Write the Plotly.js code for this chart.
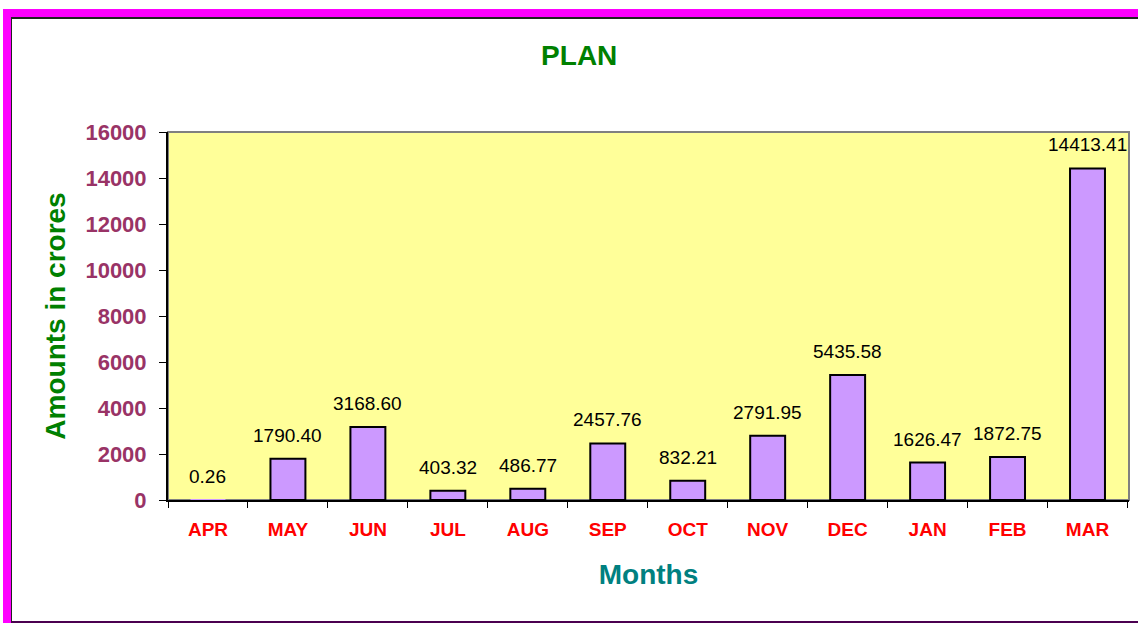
<!DOCTYPE html>
<html>
<head>
<meta charset="utf-8">
<script src="https://cdn.plot.ly/plotly-3.0.1.min.js"></script>
<style>
  html, body { margin: 0; padding: 0; background: #ffffff; }
  #frame { position: absolute; left: 3px; top: 9px; width: 1135px; height: 614px;
           border-top: 8px solid #FF00FF; border-left: 8px solid #FF00FF; box-sizing: border-box; }
  #inner { position: absolute; left: 11px; top: 17px; width: 1127px; height: 606px;
           border-top: 2px solid #222222; border-left: 1px solid #222222;
           border-bottom: 2px solid #4B0050; box-sizing: border-box; }
  #chart { position: absolute; left: 0; top: 0; width: 1138px; height: 623px; }
</style>
</head>
<body>
<div id="frame"></div>
<div id="inner"></div>
<div id="chart"></div>
<script>
const months = ["APR", "MAY", "JUN", "JUL", "AUG", "SEP", "OCT", "NOV", "DEC", "JAN", "FEB", "MAR"];
const amounts = [0.26, 1790.40, 3168.60, 403.32, 486.77, 2457.76, 832.21, 2791.95, 5435.58, 1626.47, 1872.75, 14413.41];
const yTicks = [0, 2000, 4000, 6000, 8000, 10000, 12000, 14000, 16000];

const trace = {
  type: "bar",
  x: months,
  y: amounts,
  marker: { color: "#CC99FF", line: { color: "#000000", width: amounts.map(v => v < 1 ? 0 : 2) } },
  hoverinfo: "x+y"
};

const labelAnnotations = months.map((m, i) => ({
  x: m, y: amounts[i], xref: "x", yref: "y",
  text: amounts[i].toFixed(2),
  showarrow: false, yanchor: "bottom", yshift: 11,
  font: { family: "Liberation Sans, Arial, sans-serif", size: 19, color: "#000000" }
}));

const layout = {
  width: 1138, height: 623,
  paper_bgcolor: "rgba(0,0,0,0)",
  plot_bgcolor: "#FFFF99",
  margin: { l: 168, r: 9, t: 132, b: 123 },
  showlegend: false,
  bargap: 0.563,
  font: { family: "Liberation Sans, Arial, sans-serif" },
  title: {
    text: "<b>PLAN</b>",
    font: { size: 28, color: "#008000", family: "Liberation Sans, Arial, sans-serif" },
    xref: "container", yref: "container", x: 0.509, y: 0.912, xanchor: "center", yanchor: "middle"
  },
  xaxis: {
    type: "category",
    showline: true, linecolor: "#000000", linewidth: 2,
    ticks: "outside", tickson: "boundaries", ticklen: 6, tickcolor: "#000000", tickwidth: 1,
    ticklabelstandoff: 11,
    tickfont: { size: 19, color: "#FF0000", family: "Liberation Sans, Arial, sans-serif", weight: "bold" },
    showgrid: false, zeroline: false, fixedrange: true,
    title: { text: "<b>Months</b>", standoff: 26,
             font: { size: 28, color: "#008080", family: "Liberation Sans, Arial, sans-serif" } }
  },
  yaxis: {
    range: [0, 16000],
    tickvals: yTicks,
    ticktext: yTicks.map(String),
    showline: true, linecolor: "#000000", linewidth: 2,
    ticks: "outside", ticklen: 7, tickcolor: "#000000", tickwidth: 1,
    ticklabelstandoff: 8,
    tickfont: { size: 22, color: "#993366", family: "Liberation Sans, Arial, sans-serif", weight: "bold" },
    showgrid: false, zeroline: false, fixedrange: true,
    title: { text: "<b>Amounts in crores</b>", standoff: 12,
             font: { size: 28, color: "#008000", family: "Liberation Sans, Arial, sans-serif" } }
  },
  shapes: [
    { type: "rect", xref: "paper", yref: "paper", x0: 0, x1: 1, y0: 0, y1: 1,
      line: { color: "#808080", width: 2 }, layer: "below" }
  ],
  annotations: labelAnnotations
};

Plotly.newPlot("chart", [trace], layout, { displayModeBar: false, staticPlot: false });
</script>
</body>
</html>
